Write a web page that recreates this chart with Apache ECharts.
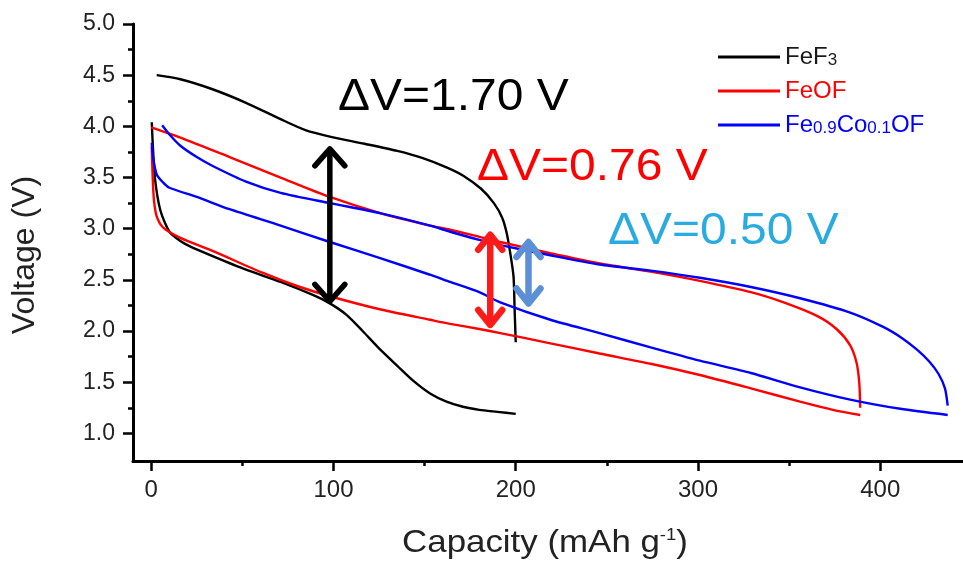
<!DOCTYPE html>
<html><head><meta charset="utf-8">
<script src="https://cdn.jsdelivr.net/npm/echarts@6/dist/echarts.min.js"></script>
<style>html,body{margin:0;padding:0;background:#fff}#c{width:963px;height:564px}</style>
</head><body><div id="c"></div>
<script>
const seriesNames = ['FeF3', 'FeOF', 'Fe0.9Co0.1OF'];
const seriesColors = ['#000000', '#ff0000', '#0000ff'];
const legendTextColors = ['#1a1a1a', '#ff0000', '#0000ff'];

// [capacity (mAh/g), voltage (V)]
const fef3Charge = [[3,4.50],[16,4.46],[34,4.36],[52,4.23],[71,4.07],[85,3.96],[98,3.90],[117,3.83],[135,3.76],[149,3.69],[162,3.60],[171,3.52],[181,3.39],[188,3.25],[192.5,3.11],[195,2.96],[197,2.76],[198.8,2.53],[199.4,2.20],[200,1.89]];
const fef3Discharge = [[0.3,4.04],[0.8,3.84],[2,3.50],[5,3.18],[10,2.97],[16,2.88],[21,2.83],[34,2.73],[52,2.60],[71,2.48],[89,2.35],[98,2.27],[107,2.16],[116,2.00],[125,1.83],[135,1.66],[144,1.51],[153,1.39],[162,1.31],[171,1.26],[180,1.23],[190,1.21],[200,1.19]];
const feofCharge = [[0,3.99],[16,3.89],[43,3.70],[71,3.50],[98,3.31],[126,3.15],[153,3.03],[164,2.99],[180,2.92],[191.5,2.87],[219,2.76],[246,2.66],[274,2.58],[301,2.49],[329,2.38],[347,2.28],[365,2.15],[376,2.02],[383.5,1.86],[387,1.69],[388.5,1.49],[389,1.25]];
const feofDischarge = [[0.3,3.80],[0.8,3.50],[1.5,3.28],[3,3.12],[6.6,3.01],[16,2.91],[34,2.78],[61,2.57],[80,2.44],[98,2.34],[126,2.21],[153,2.11],[164,2.07],[180,2.02],[191.5,1.98],[219,1.88],[246,1.78],[274,1.68],[301,1.57],[329,1.44],[356,1.31],[374,1.23],[389,1.18]];
const fecoofCharge = [[6,4.01],[10,3.92],[16,3.81],[25,3.70],[34,3.61],[52,3.46],[71,3.35],[98,3.25],[126,3.15],[153,3.03],[164,2.97],[180,2.89],[191.5,2.84],[219,2.74],[246,2.65],[274,2.59],[301,2.52],[329,2.43],[356,2.32],[383.5,2.18],[401.6,2.04],[412,1.93],[420,1.82],[427,1.70],[432,1.58],[435.5,1.44],[437,1.27]];
const fecoofDischarge = [[0.3,3.84],[1,3.70],[3,3.53],[6.6,3.45],[10,3.40],[25,3.31],[43,3.19],[71,3.03],[98,2.87],[126,2.71],[153,2.55],[164,2.48],[180,2.38],[191.5,2.28],[219,2.11],[246,1.98],[274,1.84],[301,1.71],[329,1.59],[356,1.45],[383.5,1.33],[411,1.24],[437,1.18]];

const xTickValues = [0, 100, 200, 300, 400];
const xMinorTickValues = [50, 150, 250, 350];
const yTickValues = [1.0, 1.5, 2.0, 2.5, 3.0, 3.5, 4.0, 4.5, 5.0];
const yMinorTickValues = [1.25, 1.75, 2.25, 2.75, 3.25, 3.75, 4.25, 4.75];

// ΔV double arrows: capacity, top voltage, bottom voltage
const arrowCapacity = [98, 186, 207];
const arrowTop = [3.80, 2.96, 2.89];
const arrowBottom = [2.27, 2.04, 2.25];
const arrowColors = ['#000000', '#ff1a1a', '#5b8fd6'];
const deltaLabels = ['ΔV=1.70 V', 'ΔV=0.76 V', 'ΔV=0.50 V'];
const deltaColors = ['#000000', '#ff0000', '#29abe2'];

const chart = echarts.init(document.getElementById('c'), null, {renderer: 'canvas'});
const FONT = "'Liberation Sans', Arial, sans-serif";
const X_MIN = -10, X_MAX = 445.4, Y_MIN = 0.73, Y_MAX = 5.0;

function lineSeries(name, data, color) {
  return {
    type: 'line', name: name, data: data, showSymbol: false, symbol: 'none',
    smooth: 0.25, lineStyle: {color: color, width: 2.4}, itemStyle: {color: color},
    xAxisIndex: 0, yAxisIndex: 0, z: 3, silent: true
  };
}

const legendFmt = {
  'FeF3': 'FeF{s|3}',
  'FeOF': 'FeOF',
  'Fe0.9Co0.1OF': 'Fe{s|0.9}Co{s|0.1}OF'
};

const option = {
  animation: false,
  backgroundColor: '#ffffff',
  grid: {left: 133, top: 24, right: 0, bottom: 103, containLabel: false},
  legend: {
    orient: 'vertical', left: 713, top: 40, itemWidth: 62, itemHeight: 3, itemGap: 10,
    icon: 'rect', selectedMode: false,
    formatter: function (n) { return legendFmt[n]; },
    textStyle: {fontFamily: FONT, fontSize: 24, rich: {s: {fontSize: 17, fontFamily: FONT, padding: [6, 0, 0, 0]}}},
    data: seriesNames.map(function (n, i) {
      return {name: n, textStyle: {color: legendTextColors[i], rich: {s: {color: legendTextColors[i], fontSize: 17, fontFamily: FONT, padding: [6, 0, 0, 0]}}}};
    })
  },
  xAxis: [{
    type: 'value', min: X_MIN, max: X_MAX, position: 'bottom',
    axisLine: {show: true, onZero: false, lineStyle: {color: '#000', width: 3}},
    axisTick: {show: true, customValues: xTickValues, length: 10, lineStyle: {color: '#000', width: 2.5}},
    axisLabel: {show: true, customValues: xTickValues, fontFamily: FONT, fontSize: 24, color: '#222', margin: 17},
    splitLine: {show: false}
  }, {
    type: 'value', min: X_MIN, max: X_MAX, position: 'bottom', gridIndex: 0,
    axisLine: {show: false, onZero: false},
    axisTick: {show: true, customValues: xMinorTickValues, length: 5, lineStyle: {color: '#000', width: 2.5}},
    axisLabel: {show: false},
    splitLine: {show: false}
  }],
  yAxis: [{
    type: 'value', min: Y_MIN, max: Y_MAX, position: 'left',
    axisLine: {show: true, onZero: false, lineStyle: {color: '#000', width: 3}},
    axisTick: {show: true, customValues: yTickValues, length: 10, lineStyle: {color: '#000', width: 2.5}},
    axisLabel: {show: true, customValues: yTickValues, fontFamily: FONT, fontSize: 23, color: '#222', margin: 18,
      formatter: function (v) { return v.toFixed(1); }},
    splitLine: {show: false}
  }, {
    type: 'value', min: Y_MIN, max: Y_MAX, position: 'left', gridIndex: 0,
    axisLine: {show: false, onZero: false},
    axisTick: {show: true, customValues: yMinorTickValues, length: 5, lineStyle: {color: '#000', width: 2.5}},
    axisLabel: {show: false},
    splitLine: {show: false}
  }],
  series: [
    lineSeries(seriesNames[0], fef3Charge, seriesColors[0]),
    lineSeries(seriesNames[0], fef3Discharge, seriesColors[0]),
    lineSeries(seriesNames[1], feofCharge, seriesColors[1]),
    lineSeries(seriesNames[1], feofDischarge, seriesColors[1]),
    lineSeries(seriesNames[2], fecoofCharge, seriesColors[2]),
    lineSeries(seriesNames[2], fecoofDischarge, seriesColors[2]),
    {
      type: 'custom', name: 'arrows', xAxisIndex: 0, yAxisIndex: 0, z: 5, silent: true,
      encode: {x: 0, y: [1, 2]},
      data: arrowCapacity.map(function (c, i) { return [c, arrowTop[i], arrowBottom[i]]; }),
      renderItem: function (params, api) {
        const i = params.dataIndex;
        const p1 = api.coord([api.value(0), api.value(1)]);
        const p2 = api.coord([api.value(0), api.value(2)]);
        const col = arrowColors[i];
        const w = i === 0 ? 5.5 : 6.5, hw = i === 0 ? 15 : 12, hh = i === 0 ? 19 : 17;
        return {type: 'group', children: [
          {type: 'line', shape: {x1: p1[0], y1: p1[1] + 3, x2: p2[0], y2: p2[1] - 3}, style: {stroke: col, lineWidth: w}},
          {type: 'polyline', shape: {points: [[p1[0] - hw, p1[1] + hh], [p1[0], p1[1] + 2], [p1[0] + hw, p1[1] + hh]]}, style: {stroke: col, fill: null, lineWidth: w, lineJoin: 'round', lineCap: 'round'}},
          {type: 'polyline', shape: {points: [[p2[0] - hw, p2[1] - hh], [p2[0], p2[1] - 2], [p2[0] + hw, p2[1] - hh]]}, style: {stroke: col, fill: null, lineWidth: w, lineJoin: 'round', lineCap: 'round'}}
        ]};
      }
    }
  ],
  graphic: [
    {type: 'text', x: 338, y: 98, scaleX: 1.09, silent: true,
      style: {text: deltaLabels[0], fill: deltaColors[0], font: '44px ' + FONT, textVerticalAlign: 'middle'}},
    {type: 'text', x: 477, y: 168, scaleX: 1.09, silent: true,
      style: {text: deltaLabels[1], fill: deltaColors[1], font: '44px ' + FONT, textVerticalAlign: 'middle'}},
    {type: 'text', x: 608, y: 232, scaleX: 1.09, silent: true,
      style: {text: deltaLabels[2], fill: deltaColors[2], font: '44px ' + FONT, textVerticalAlign: 'middle'}},
    {type: 'text', x: 25, y: 255, rotation: Math.PI / 2, silent: true,
      style: {text: 'Voltage (V)', fill: '#222', font: '32px ' + FONT, textAlign: 'center', textVerticalAlign: 'middle'}},
    {type: 'text', x: 545, y: 543, scaleX: 1.09, silent: true,
      style: {text: 'Capacity (mAh g{sup|-1})', fill: '#222', font: '32px ' + FONT, textAlign: 'center', textVerticalAlign: 'middle',
        rich: {sup: {fontSize: 17, fontFamily: FONT, fill: '#222', verticalAlign: 'top', padding: [0, 0, 14, 0]}}}}
  ]
};
chart.setOption(option);
</script></body></html>
